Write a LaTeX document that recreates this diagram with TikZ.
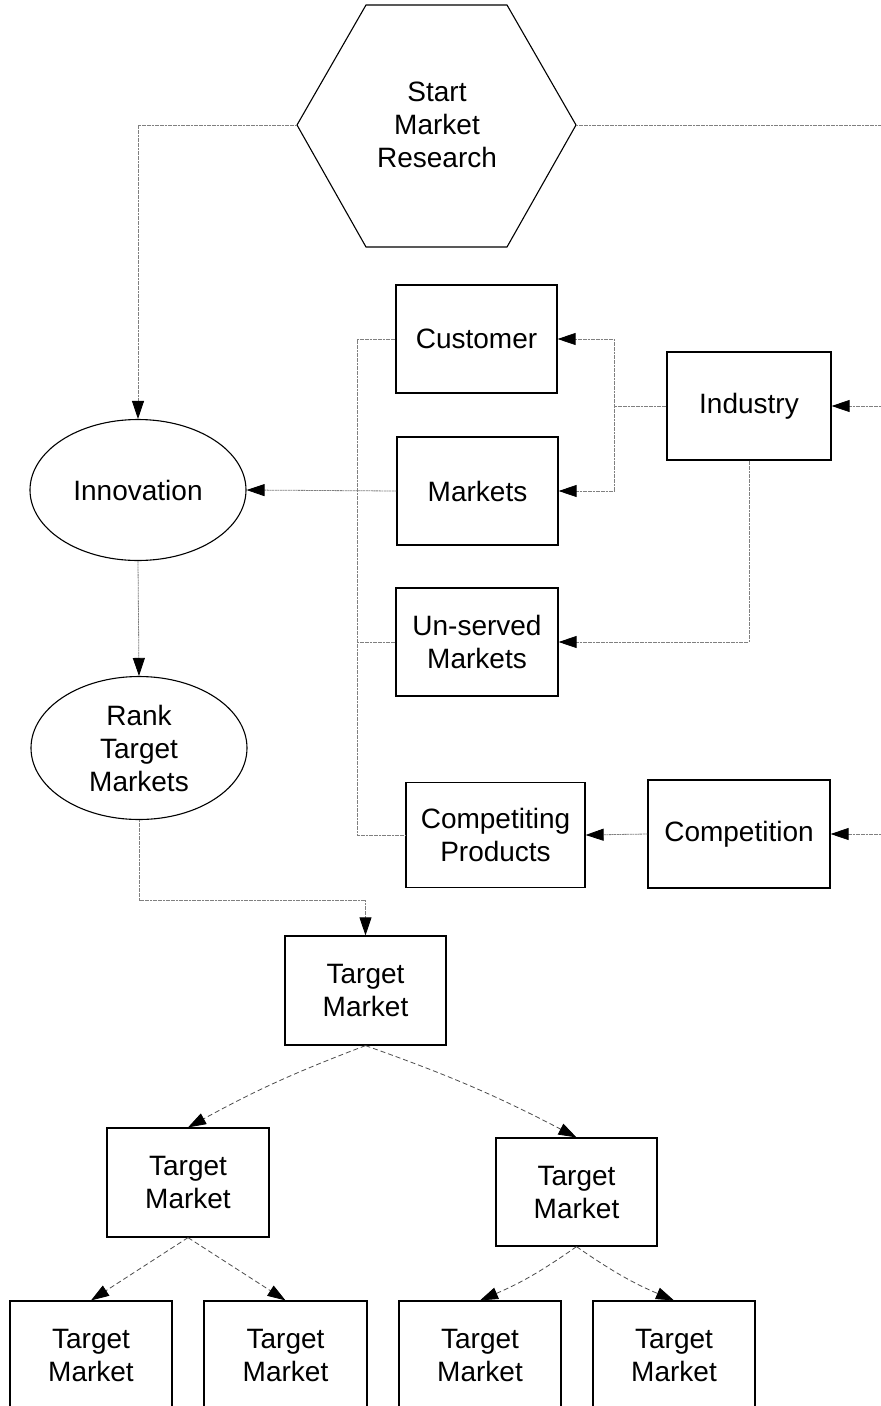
\documentclass[tikz,border=0pt]{standalone}
\usepackage{fontspec}
\setmainfont{Liberation Sans}
\usetikzlibrary{arrows.meta,shapes.geometric,calc}
\begin{document}
\begin{tikzpicture}[x=1pt,y=-1pt,
  every node/.style={font=\fontsize{28}{33}\selectfont, align=center, inner sep=0pt},
  box/.style={draw, line width=1.2pt, rectangle, minimum width=161pt, minimum height=108pt},
  oval/.style={draw, line width=1.1pt, ellipse, minimum width=216pt, minimum height=141pt},
  link/.style={draw=black!50, line width=0.8pt, dash pattern=on 2pt off 0.6pt},
  arr/.style={link, -{Triangle[length=18pt,width=12pt,color=black]}},
  darr/.style={arr, draw=black!70, dash pattern=on 5pt off 3pt},
]
\clip (0,0) rectangle (881,1406);
\fill[white] (0,0) rectangle (881,1406);
% hexagon
\draw[line width=1.1pt] (366,5) -- (507,5) -- (576,125) -- (507,247) -- (366,247) -- (297,125) -- cycle;
\node (start) at (437,125) {Start\\Market\\Research};
\coordinate (hexL) at (297,125);
\coordinate (hexR) at (576,125);
\coordinate (edgeTop) at (881,125);
\coordinate (edgeInd) at (881,406);
\coordinate (edgeComp) at (881,834);

% nodes
\node[box] (customer) at (476.5,339) {Customer};
\node[box] (markets) at (477.5,491) {Markets};
\node[box, minimum width=162pt] (unserved) at (477,642) {Un-served\\Markets};
\node[box, minimum width=164pt] (industry) at (749,406) {Industry};
\node[box, minimum width=179pt, minimum height=105pt] (competing) at (495.5,835) {Competiting\\Products};
\node[box, minimum width=182pt] (competition) at (739,834) {Competition};
\node[oval] (innovation) at (138,490) {Innovation};
\node[oval, minimum height=143pt] (rank) at (139,748) {Rank\\Target\\Markets};

\node[box, minimum height=109pt] (tm0) at (365.5,990.5) {Target\\Market};
\node[box, minimum width=162pt, minimum height=109pt] (tm1) at (188,1182.5) {Target\\Market};
\node[box] (tm2) at (576.5,1192) {Target\\Market};
\node[box, minimum width=162pt, minimum height=109pt] (tm3) at (91,1355.5) {Target\\Market};
\node[box, minimum width=163pt, minimum height=109pt] (tm4) at (285.5,1355.5) {Target\\Market};
\node[box, minimum width=162pt, minimum height=109pt] (tm5) at (480,1355.5) {Target\\Market};
\node[box, minimum width=162pt, minimum height=109pt] (tm6) at (674,1355.5) {Target\\Market};

% connectors
\draw[arr] (hexL) -| (innovation.north);
\draw[link] (hexR) -- (edgeTop);
\draw[arr] (edgeInd) -- (industry.east);
\coordinate (jI) at (614,406);
\draw[link] (industry.west) -- (jI);
\draw[arr] (jI) |- (customer.east);
\draw[arr] (jI) |- (markets.east);
\draw[arr] (industry.south) |- (unserved.east);

\coordinate (vTop) at (357,339);
\coordinate (vBot) at (357,835);
\draw[link] (customer.west) -- (vTop) -- (vBot) -- (competing.west);
\draw[link] (unserved.west) -- (unserved.west -| vTop);
\draw[arr] (markets.west) -- (innovation.east);

\draw[arr] (innovation.south) -- (rank.north);
\coordinate (bend) at (250,900);
\draw[arr] (rank.south) |- (bend) -| (tm0.north);

\draw[arr] (competition.west) -- (competing.east);
\draw[arr] (edgeComp) -- (competition.east);

\draw[darr] (tm0.south) to[bend right=4] (tm1.north);
\draw[darr] (tm0.south) to[bend left=4] (tm2.north);
\draw[darr] (tm1.south) -- (tm3.north);
\draw[darr] (tm1.south) -- (tm4.north);
\draw[darr] (tm2.south) to[bend left=6] (tm5.north);
\draw[darr] (tm2.south) to[bend right=6] (tm6.north);
\end{tikzpicture}
\end{document}
